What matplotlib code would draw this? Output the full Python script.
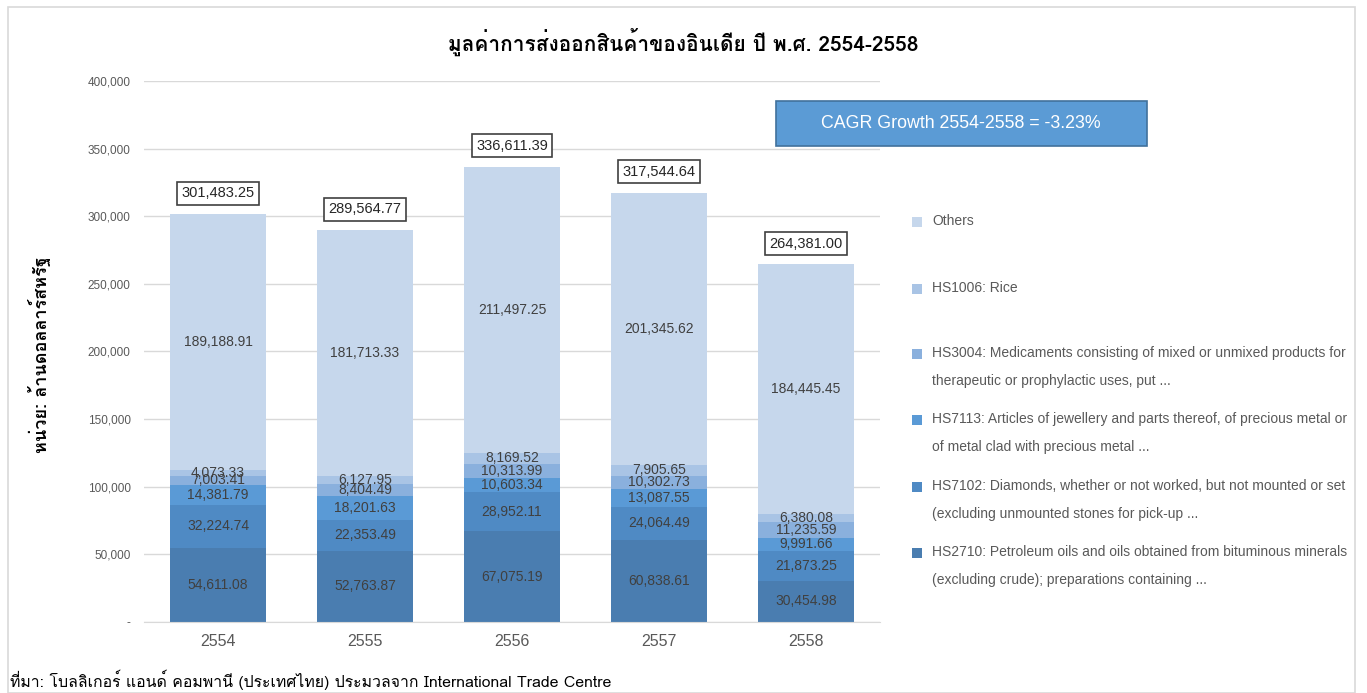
import numpy as np
import matplotlib
matplotlib.use("Agg")
import matplotlib.pyplot as plt
from matplotlib import font_manager
from matplotlib.ft2font import FT2Font
from matplotlib.patches import Rectangle

# === find a font that has Thai glyphs
thai_family = None
for f in font_manager.fontManager.ttflist:
    try:
        if ord("ม") in FT2Font(f.fname).get_charmap():
            thai_family = f.name
            break
    except Exception:
        pass
families = ([thai_family] if thai_family else []) + ["DejaVu Sans"]
plt.rcParams["font.family"] = families
LAT = ["Liberation Sans", "DejaVu Sans"]

# === data
years = ["2554", "2555", "2556", "2557", "2558"]
series_names = [
    "HS2710: Petroleum oils and oils obtained from bituminous minerals\n(excluding crude); preparations containing ...",
    "HS7102: Diamonds, whether or not worked, but not mounted or set\n(excluding unmounted stones for pick-up ...",
    "HS7113: Articles of jewellery and parts thereof, of precious metal or\nof metal clad with precious metal ...",
    "HS3004: Medicaments consisting of mixed or unmixed products for\ntherapeutic or prophylactic uses, put ...",
    "HS1006: Rice",
    "Others",
]
hs2710 = [54611.08, 52763.87, 67075.19, 60838.61, 30454.98]
hs7102 = [32224.74, 22353.49, 28952.11, 24064.49, 21873.25]
hs7113 = [14381.79, 18201.63, 10603.34, 13087.55, 9991.66]
hs3004 = [7003.41, 8404.49, 10313.99, 10302.73, 11235.59]
hs1006 = [4073.33, 6127.95, 8169.52, 7905.65, 6380.08]
others = [189188.91, 181713.33, 211497.25, 201345.62, 184445.45]
totals = [301483.25, 289564.77, 336611.39, 317544.64, 264381.00]

colors = ["#4A7DB0", "#4F8AC4", "#5A9AD6", "#8AB0DD", "#A9C4E5", "#C6D7EC"]
values = [hs2710, hs7102, hs7113, hs3004, hs1006, others]

fig = plt.figure(figsize=(13.67, 6.93), dpi=100)
ax = fig.add_axes([0.1057, 0.1025, 0.5377, 0.7806])

x = np.arange(len(years))
bottom = np.zeros(len(years))
for vals, col in zip(values, colors):
    vals = np.array(vals)
    ax.bar(x, vals, 0.65, bottom=bottom, color=col, zorder=2)
    for xi, b, v in zip(x, bottom, vals):
        ax.text(xi, b + v / 2, f"{v:,.2f}", ha="center", va="center",
                fontsize=10, color="#404040", family=LAT, zorder=3)
    bottom += vals

for xi, t in zip(x, totals):
    ax.annotate(f"{t:,.2f}", (xi, t), xytext=(0, 10), textcoords="offset points",
                ha="center", va="bottom", fontsize=10.5, color="#262626", family=LAT,
                bbox=dict(boxstyle="square,pad=0.3", fc="white", ec="#404040", lw=1.2))

ax.set_xlim(-0.5, 4.5)
ax.set_ylim(0, 400000)
ax.set_yticks(np.arange(0, 400001, 50000))
ax.yaxis.set_major_formatter(plt.FuncFormatter(lambda v, p: "-" if v == 0 else f"{v:,.0f}"))
ax.set_xticks(x)
ax.set_xticklabels(years)
ax.tick_params(axis="y", length=0, pad=10, labelsize=8.5, labelcolor="#595959")
ax.tick_params(axis="x", length=0, pad=9, labelsize=11.5, labelcolor="#595959")
for lab in ax.get_xticklabels() + ax.get_yticklabels():
    lab.set_family(LAT)
ax.grid(axis="y", color="#D9D9D9", lw=1, zorder=0)
for s in ["top", "right", "left"]:
    ax.spines[s].set_visible(False)
ax.spines["bottom"].set_color("#D9D9D9")

# === outer chart frame
fig.patches.append(Rectangle((8 / 1367, 0), 1347 / 1367, 686 / 693, transform=fig.transFigure,
                             fill=False, ec="#D9D9D9", lw=1.2))

# === title and labels
fig.text(683 / 1367, 1 - 42 / 693, "มูลค่าการส่งออกสินค้าของอินเดีย ปี พ.ศ. 2554-2558",
         ha="center", va="center", fontsize=15, fontweight="bold")
fig.text(40 / 1367, 1 - 355 / 693, "หน่วย: ล้านดอลลาร์สหรัฐ", rotation=90,
         ha="center", va="center", fontsize=13, fontweight="bold")
fig.text(10 / 1367, 1 - 680 / 693,
         "ที่มา: โบลลิเกอร์ แอนด์ คอมพานี (ประเทศไทย) ประมวลจาก International Trade Centre",
         ha="left", va="center", fontsize=11.4, color="black")

# === CAGR box
fig.text(961 / 1367, 1 - 124 / 693, "CAGR Growth 2554-2558 = -3.23%",
         ha="center", va="center", fontsize=12.8, color="white", family=LAT)
fig.patches.append(Rectangle((776 / 1367, 1 - 146 / 693), 371 / 1367, 45 / 693,
                             transform=fig.transFigure, fc="#5B9BD5", ec="#41719C", lw=1.2,
                             zorder=0))

# === legend (top entry = Others)
legend_y = [222, 289, 354, 420, 487, 553]
for name, col, ly in zip(series_names[::-1], colors[::-1], legend_y):
    fig.patches.append(Rectangle((912 / 1367, 1 - (ly + 5) / 693), 10 / 1367, 10 / 693,
                                 transform=fig.transFigure, fc=col, ec="none"))
    fig.text(932 / 1367, 1 - (ly - 8) / 693, name, ha="left", va="top", fontsize=10,
             color="#595959", linespacing=2.3, family=LAT)

fig.savefig("out.png", dpi=100)
